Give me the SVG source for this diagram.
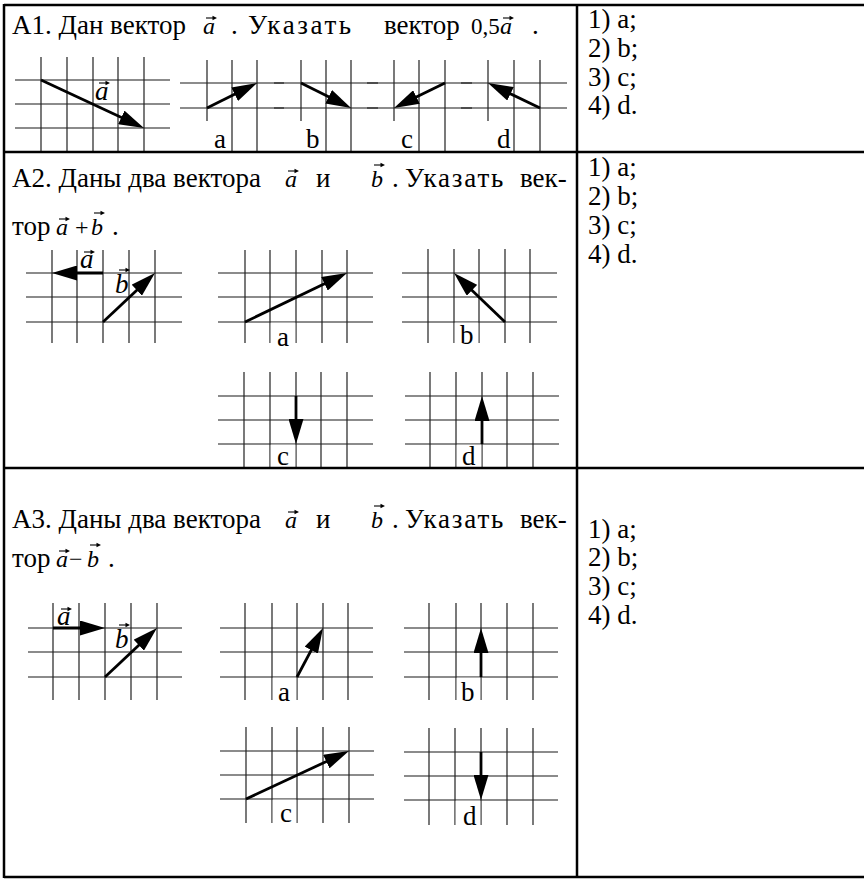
<svg xmlns="http://www.w3.org/2000/svg" width="864" height="879" viewBox="0 0 864 879">
<style>
.t{font-family:"Liberation Serif","Times New Roman",serif;font-size:27px;fill:#000}
.i{font-style:italic}
.e{font-size:24px}
.e2{font-size:23px}
.sp{letter-spacing:1.8px}
.sp2{letter-spacing:2.6px}
.gh{stroke:#666;stroke-width:1.3;fill:none}
.gho{stroke:#000;stroke-opacity:.6;stroke-width:1.3;fill:none}
.gv{stroke:#222;stroke-width:1.2;fill:none}
.vec{stroke:#000;stroke-width:2.8;fill:none;marker-end:url(#ah)}
.lb{fill:#fff}
.tb{stroke:#000;stroke-width:2.5;fill:none}
</style>
<defs>
<marker id="ah" markerUnits="userSpaceOnUse" viewBox="0 0 25 15" markerWidth="25" markerHeight="15" refX="15" refY="7.5" orient="auto">
<path d="M0,0 L25,7.5 L0,15 Z" fill="#000"/>
</marker>
<g id="va"><path d="M0,0 H8" stroke="#000" stroke-width="1.1"/><path d="M6.5,-2.3 L11,0 L6.5,2.3 Z" fill="#000"/></g>
</defs>
<rect width="864" height="879" fill="#fff"/>

<g id="row1">
<text class="t" y="34"><tspan x="12">A1. Дан вектор</tspan><tspan x="203" class="i e">a</tspan><tspan x="231">.</tspan><tspan x="248" class="sp2">Указать</tspan><tspan x="384">вектор</tspan><tspan x="471" class="e2">0,5</tspan><tspan x="500" class="i e">a</tspan><tspan x="532">.</tspan></text>
<use href="#va" transform="translate(206,18)"/>
<use href="#va" transform="translate(503,18)"/>
<g id="a1-given">
<path class="gh" d="M15,80 H170 M15,104 H170 M15,128 H170"/>
<path class="gv" d="M41,57 V152 M67,57 V152 M93,57 V152 M118,57 V152 M144,57 V152"/>
<text class="t i" x="95" y="100">a</text>
<use href="#va" transform="translate(99,83)"/>
</g>
<g id="a1-opt-a">
<path class="gho" d="M180,83 H284 M180,108 H284"/>
<path class="gv" d="M207,60 V152 M232,60 V152 M257,60 V152"/>
<rect class="lb" x="205.5" y="121" width="25.5" height="31"/>
<text class="t" x="214" y="148">a</text>
</g>
<g id="a1-opt-b">
<path class="gho" d="M274,83 H378 M274,108 H378"/>
<path class="gv" d="M301,60 V152 M326,60 V152 M351,60 V152"/>
<rect class="lb" x="299.5" y="121" width="25.5" height="31"/>
<text class="t" x="306" y="148">b</text>
</g>
<g id="a1-opt-c">
<path class="gho" d="M367,83 H472 M367,108 H472"/>
<path class="gv" d="M394,60 V152 M419,60 V152 M445,60 V152"/>
<rect class="lb" x="392.5" y="121" width="25.5" height="31"/>
<text class="t" x="401" y="148">c</text>
</g>
<g id="a1-opt-d">
<path class="gho" d="M461,83 H567 M461,108 H567"/>
<path class="gv" d="M488,60 V152 M514,60 V152 M540,60 V152"/>
<rect class="lb" x="486.5" y="121" width="26.5" height="31"/>
<text class="t" x="497" y="148">d</text>
</g>
<text class="t"><tspan x="588" y="28">1) a;</tspan><tspan x="588" y="57">2) b;</tspan><tspan x="588" y="86">3) c;</tspan><tspan x="588" y="114">4) d.</tspan></text>
</g>

<g id="row2">
<text class="t" y="187"><tspan x="12">A2. Даны два вектора</tspan><tspan x="285" class="i e">a</tspan><tspan x="316">и</tspan><tspan x="371" class="i e">b</tspan><tspan x="392">.</tspan><tspan x="405" class="sp">Указать</tspan><tspan x="520">век-</tspan></text>
<use href="#va" transform="translate(288,171)"/>
<use href="#va" transform="translate(374,165)"/>
<text class="t" y="235"><tspan x="12">тор</tspan><tspan x="56" class="i e">a</tspan><tspan x="75" class="e">+</tspan><tspan x="91" class="i e">b</tspan><tspan x="112">.</tspan></text>
<use href="#va" transform="translate(59,219)"/>
<use href="#va" transform="translate(94,213)"/>
<g id="a2-given">
<path class="gh" d="M26,273 H182 M26,297 H182 M26,322 H182"/>
<path class="gv" d="M52,250 V343 M77,250 V343 M103,250 V343 M129,250 V343 M155,250 V343"/>
<text class="t i" x="80" y="268">a</text>
<use href="#va" transform="translate(84,252)"/>
<text class="t i" x="115" y="293">b</text>
<use href="#va" transform="translate(119,270)"/>
</g>
<g id="a2-opt-a">
<path class="gh" d="M218,273 H373 M218,297 H373 M218,322 H373"/>
<path class="gv" d="M245,250 V343 M270,250 V343 M296,250 V343 M322,250 V343 M347,250 V343"/>
<rect class="lb" x="270.7" y="322.7" width="24.6" height="26"/>
<text class="t" x="277" y="346">a</text>
</g>
<g id="a2-opt-b">
<path class="gh" d="M402,273 H557 M402,297 H557 M402,322 H557"/>
<path class="gv" d="M428,249 V343 M454,249 V343 M479,249 V343 M505,249 V343 M530,249 V343"/>
<rect class="lb" x="454.7" y="322.7" width="23.6" height="26"/>
<text class="t" x="460" y="344">b</text>
</g>
<g id="a2-opt-c">
<path class="gh" d="M218,396 H373 M218,420 H373 M218,444 H373"/>
<path class="gv" d="M244,372 V468 M270,372 V468 M296,372 V468 M321,372 V468 M347,372 V468"/>
<rect class="lb" x="270.7" y="444.7" width="24.6" height="23"/>
<text class="t" x="277" y="465">c</text>
</g>
<g id="a2-opt-d">
<path class="gh" d="M405,396 H559 M405,420 H559 M405,444 H559"/>
<path class="gv" d="M430,372 V468 M456,372 V468 M482,372 V468 M507,372 V468 M533,372 V468"/>
<rect class="lb" x="456.7" y="444.7" width="24.6" height="23"/>
<text class="t" x="462" y="465">d</text>
</g>
<text class="t"><tspan x="588" y="176">1) a;</tspan><tspan x="588" y="205">2) b;</tspan><tspan x="588" y="234">3) c;</tspan><tspan x="588" y="263">4) d.</tspan></text>
</g>

<g id="row3">
<text class="t" y="528"><tspan x="12">A3. Даны два вектора</tspan><tspan x="285" class="i e">a</tspan><tspan x="316">и</tspan><tspan x="371" class="i e">b</tspan><tspan x="392">.</tspan><tspan x="405" class="sp">Указать</tspan><tspan x="520">век-</tspan></text>
<use href="#va" transform="translate(288,512)"/>
<use href="#va" transform="translate(374,506)"/>
<text class="t" y="567"><tspan x="12">тор</tspan><tspan x="56" class="i e">a</tspan><tspan x="69" class="e">−</tspan><tspan x="87" class="i e">b</tspan><tspan x="108">.</tspan></text>
<use href="#va" transform="translate(59,551)"/>
<use href="#va" transform="translate(90,545)"/>
<g id="a3-given">
<path class="gh" d="M28,628 H182 M28,652 H182 M28,677 H182"/>
<path class="gv" d="M53,603 V700 M79,603 V700 M105,603 V700 M131,603 V700 M157,603 V700"/>
<text class="t i" x="57" y="625">a</text>
<use href="#va" transform="translate(61,609)"/>
<text class="t i" x="115" y="648">b</text>
<use href="#va" transform="translate(119,625)"/>
</g>
<g id="a3-opt-a">
<path class="gh" d="M220,628 H373 M220,652 H373 M220,677 H373"/>
<path class="gv" d="M245,603 V700 M272,603 V700 M297,603 V700 M323,603 V700 M348,603 V700"/>
<rect class="lb" x="272.7" y="677.7" width="23.6" height="26"/>
<text class="t" x="278" y="701">a</text>
</g>
<g id="a3-opt-b">
<path class="gh" d="M404,628 H558 M404,652 H558 M404,677 H558"/>
<path class="gv" d="M429,603 V700 M456,603 V700 M481,603 V700 M507,603 V700 M533,603 V700"/>
<rect class="lb" x="456.7" y="677.7" width="23.6" height="26"/>
<text class="t" x="461" y="701">b</text>
</g>
<g id="a3-opt-c">
<path class="gh" d="M220,751 H374 M220,775 H374 M220,799 H374"/>
<path class="gv" d="M246,727 V823 M272,727 V823 M297,727 V823 M323,727 V823 M349,727 V823"/>
<rect class="lb" x="272.7" y="799.7" width="23.6" height="26"/>
<text class="t" x="280" y="822">c</text>
</g>
<g id="a3-opt-d">
<path class="gh" d="M404,752 H558 M404,776 H558 M404,800 H558"/>
<path class="gv" d="M429,728 V825 M455,728 V825 M481,728 V825 M507,728 V825 M533,728 V825"/>
<rect class="lb" x="455.7" y="800.7" width="24.6" height="26"/>
<text class="t" x="463" y="825">d</text>
</g>
<text class="t"><tspan x="588" y="538">1) a;</tspan><tspan x="588" y="566">2) b;</tspan><tspan x="588" y="595">3) c;</tspan><tspan x="588" y="624">4) d.</tspan></text>
</g>

<g id="connectors">
<path class="vec" d="M41,80 L134.9,123.8"/>
<path class="vec" d="M207,108 L248.1,87.5"/>
<path class="vec" d="M301,83 L342.1,103.5"/>
<path class="vec" d="M445,83 L403,103.6"/>
<path class="vec" d="M540,108 L497,87.3"/>
<path class="vec" d="M103,273 L62,273"/>
<path class="vec" d="M103,322 L147.7,279.9"/>
<path class="vec" d="M245,322 L338,277.3"/>
<path class="vec" d="M505,322 L461.2,279.9"/>
<path class="vec" d="M296,396 L296,434"/>
<path class="vec" d="M482,444 L482,406"/>
<path class="vec" d="M53,628 L95,628"/>
<path class="vec" d="M105,677 L149.7,634.9"/>
<path class="vec" d="M297,677 L318.3,636.8"/>
<path class="vec" d="M481,677 L481,638"/>
<path class="vec" d="M246,799 L339.9,755.2"/>
<path class="vec" d="M481,752 L481,790"/>
</g>

<g id="table">
<path class="tb" d="M4,5 H864 M4,152 H864 M4,468 H864 M4,877 H864 M4,4 V878 M577,5 V877"/>
</g>
</svg>
